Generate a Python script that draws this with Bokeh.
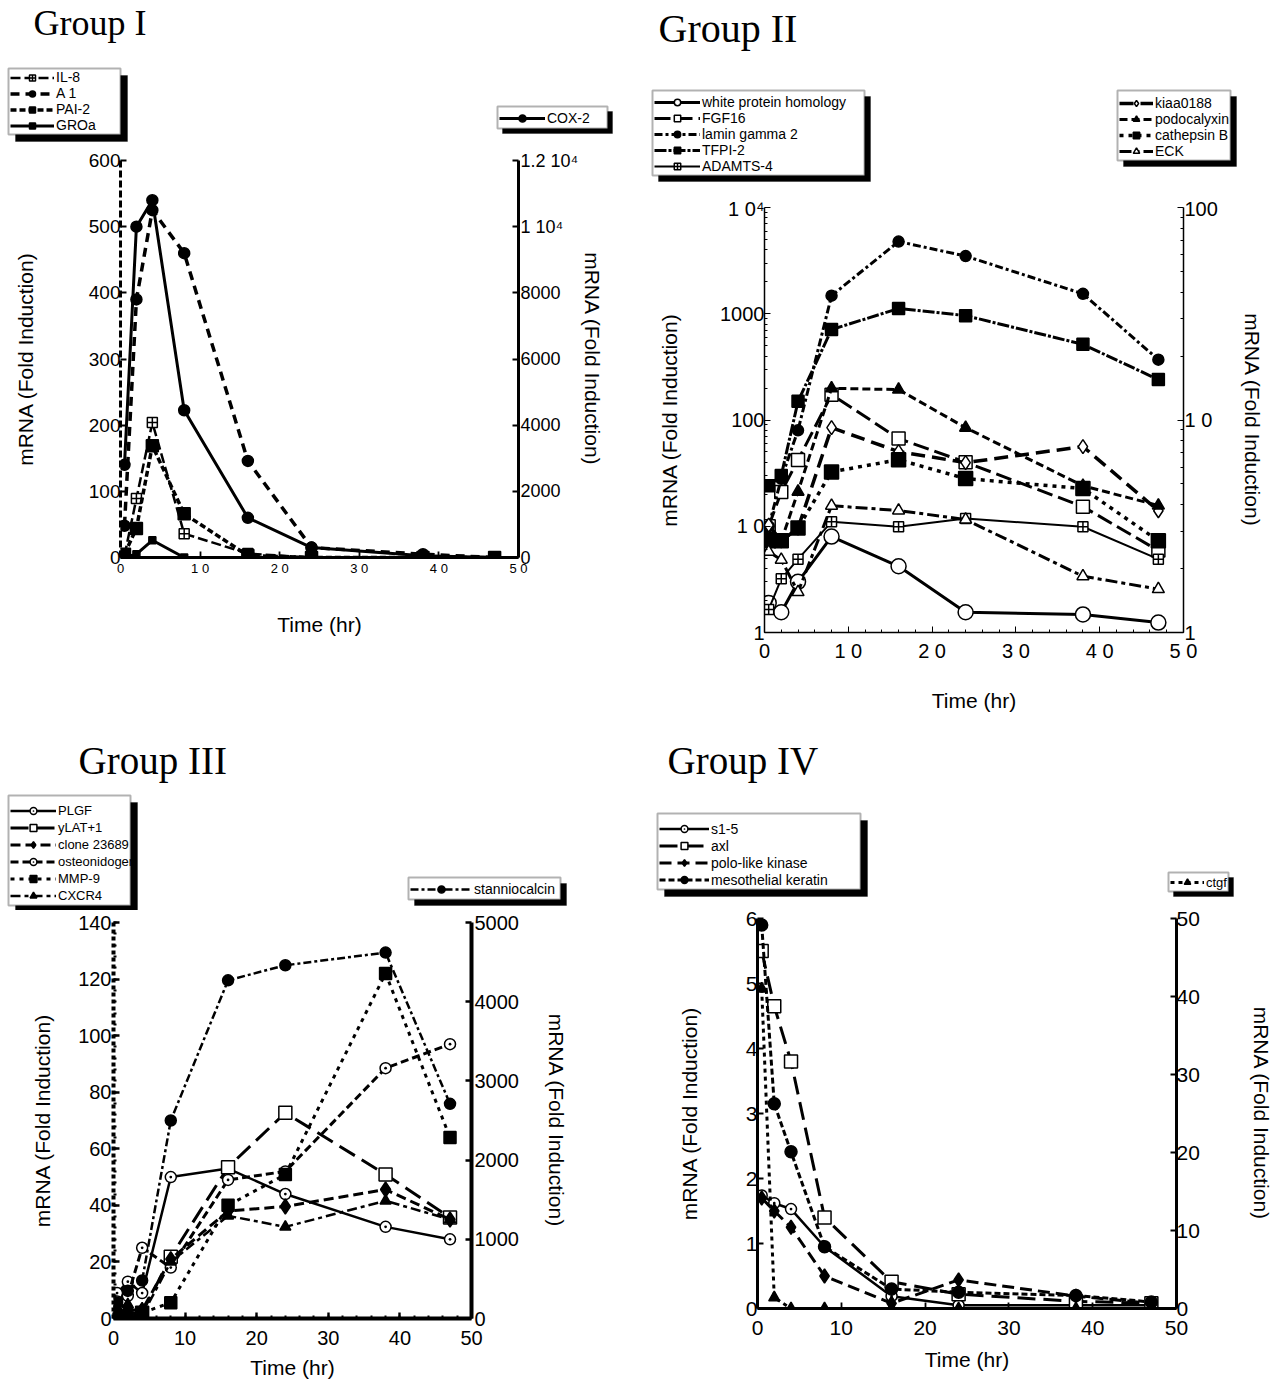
from bokeh.plotting import figure
from bokeh.models import (Range1d, LinearAxis, LogAxis, LogScale, FixedTicker,
                          Legend, LegendItem, BoxAnnotation, Label)
from bokeh.layouts import column, row
from bokeh.embed import file_html
from bokeh.resources import INLINE

SANS = "Liberation Sans"
SERIF = "Liberation Serif"

# ---------------- data ----------------
hours = [0.5, 2, 4, 8, 16, 24, 38, 47]

# Group I (left axis 0-600, right axis 0-12000)
g1_il8 = [3, 89, 204, 36, 6, 0, 0, 0]
g1_a1 = [48, 390, 525, 460, 146, 15, 5, 0]
g1_pai2 = [5, 44, 169, 66, 3, 0, 0, 0]
g1_groa = [0, 5, 26, 0, 0, 0, 0, 0]
g1_cox2 = [2800, 10000, 10800, 4450, 1200, 300, 50, 0]

# Group II (left log axis 1-10^4, right log axis 1-100)
g2_white = [1.9, 1.55, 3.0, 8.0, 4.2, 1.55, 1.48, 1.24]
g2_fgf16 = [10, 21, 42, 173, 67, 40, 15.3, 5.9]
g2_lamin = [10, 28, 80, 1480, 4780, 3490, 1540, 370]
g2_tfpi2 = [24, 30, 150, 710, 1120, 960, 515, 240]
g2_adamts4 = [1.65, 3.2, 4.9, 11, 9.9, 11.8, 9.9, 4.9]
g2_kiaa = [3.2, 2.7, 3.1, 9.2, 7.1, 6.3, 7.5, 3.74]
g2_podo = [2.7, 2.7, 4.6, 14.1, 13.9, 9.2, 4.9, 3.96]
g2_cath = [2.7, 2.7, 3.1, 5.7, 6.5, 5.3, 4.76, 2.7]
g2_eck = [2.4, 2.2, 1.55, 3.95, 3.75, 3.4, 1.84, 1.6]

# Group III (left axis 0-140, right axis 0-5000)
g3_plgf = [9, 13, 9, 50, 53, 44, 32.4, 28]
g3_ylat = [0, 0, 2, 21.8, 53.5, 72.7, 50.9, 35.7]
g3_clone = [2, 3, 3, 21, 38, 39.6, 45.6, 35]
g3_osteo = [6, 8, 25, 18, 49, 52, 88.5, 97]
g3_mmp9 = [0, 0, 2, 5.6, 40, 50.9, 122, 64]
g3_cxcr4 = [4, 5, 1, 20, 36.3, 32.4, 41.6, 35]
g3_stc = [200, 350, 480, 2500, 4270, 4460, 4620, 2710]

# Group IV (left axis 0-6, right axis 0-50)
g4_s15 = [1.74, 1.62, 1.53, 0.95, 0.19, 0.05, 0.05, 0.05]
g4_axl = [5.5, 4.65, 3.8, 1.4, 0.41, 0.22, 0.11, 0.08]
g4_polo = [1.7, 1.5, 1.25, 0.5, 0.08, 0.44, 0.19, 0.08]
g4_meso = [5.9, 3.15, 2.41, 0.95, 0.3, 0.25, 0.2, 0.1]
g4_ctgf = [41, 1.4, 0, 0, 0, 0, 0, 0]

# tick values / labels
x_ticks = [0, 10, 20, 30, 40, 50]
g1_left_ticks = [0, 100, 200, 300, 400, 500, 600]
g1_right_ticks = [0, 2000, 4000, 6000, 8000, 10000, 12000]
g2_left_ticks = [1, 10, 100, 1000, 10000]
g2_right_ticks = [1, 10, 100]
g3_left_ticks = [0, 20, 40, 60, 80, 100, 120, 140]
g3_right_ticks = [0, 1000, 2000, 3000, 4000, 5000]
g4_left_ticks = [0, 1, 2, 3, 4, 5, 6]
g4_right_ticks = [0, 10, 20, 30, 40, 50]

YLAB = "mRNA (Fold Induction)"
XLAB = "Time (hr)"

ORIG = {}


# ---------------- helpers ----------------
def make_fig(w, h, ml, mr, mt, mb, yr, ylog=False):
    p = figure(width=w, height=h, x_range=Range1d(0, 50), y_range=yr,
               y_axis_type="log" if ylog else "linear",
               output_backend="svg", toolbar_location=None,
               min_border_left=ml, min_border_right=mr,
               min_border_top=mt, min_border_bottom=mb)
    p.outline_line_color = None
    p.xgrid.visible = False
    p.ygrid.visible = False
    p.background_fill_color = "white"
    p.border_fill_color = "white"
    return p


def make_header(w, h, ox, oy):
    f = figure(width=w, height=h, x_range=Range1d(0, w), y_range=Range1d(0, h),
               output_backend="svg", toolbar_location=None,
               x_axis_location=None, y_axis_location=None, min_border=0)
    f.outline_line_color = None
    f.xgrid.visible = False
    f.ygrid.visible = False
    f.background_fill_color = "white"
    f.border_fill_color = "white"
    ORIG[f.id] = (ox, oy + h)   # page coords of bottom-left
    return f


def style_axis(ax, font_size, lw, dash=None, label=None, lab_standoff=10, tick_standoff=3):
    ax.axis_line_color = "black"
    ax.axis_line_width = lw
    if dash:
        ax.axis_line_dash = dash
    ax.major_tick_in = 6
    ax.major_tick_out = 0
    ax.minor_tick_in = 3
    ax.minor_tick_out = 0
    ax.major_tick_line_width = max(1, lw * 0.6)
    ax.minor_tick_line_width = max(1, lw * 0.5)
    ax.major_label_text_font = SANS
    ax.major_label_text_font_size = font_size
    ax.major_label_text_color = "black"
    ax.major_label_standoff = tick_standoff
    if label is not None:
        ax.axis_label = label
        ax.axis_label_text_font = SANS
        ax.axis_label_text_font_size = "21px"
        ax.axis_label_text_font_style = "normal"
        ax.axis_label_text_color = "black"
        ax.axis_label_standoff = lab_standoff


def series(p, x, y, st, rng="default"):
    p.line(x, y, line_color="black", line_width=st["w"], line_dash=st["dash"],
           y_range_name=rng)
    p.scatter(x, y, marker=st["m"], size=st["s"], fill_color=st["fill"],
              line_color="black", line_width=1.5, y_range_name=rng)


def legend_box(h, x1, y1, x2, y2, sh=7):
    ox, ob = ORIG[h.id]
    kw = dict(left_units="screen", right_units="screen",
              top_units="screen", bottom_units="screen")
    h.add_layout(BoxAnnotation(left=x1 - ox + sh, right=x2 - ox + sh,
                               top=ob - y1 - sh, bottom=ob - y2 - sh,
                               fill_color="black", fill_alpha=1.0,
                               line_color="black", **kw))
    h.add_layout(BoxAnnotation(left=x1 - ox, right=x2 - ox, top=ob - y1, bottom=ob - y2,
                               fill_color="white", fill_alpha=1.0,
                               line_color="black", line_width=2, **kw))


def legend(h, entries, x1, y2, item_h=15, glyph_w=44, font="14px"):
    ox, ob = ORIG[h.id]
    items = []
    for name, st in entries:
        # legend swatches only: one sample far outside the visible range
        r1 = h.line([-9000, -8000], [-9000, -8000], line_color="black",
                    line_width=st["w"], line_dash=st["dash"])
        r2 = h.scatter([-9000], [-9000], marker=st["m"], size=st["s"],
                       fill_color=st["fill"], line_color="black", line_width=1.5)
        items.append(LegendItem(label=name, renderers=[r1, r2]))
    lg = Legend(items=items, location=(x1 - ox + 2, ob - y2 + 1))
    lg.label_text_font = SANS
    lg.label_text_font_size = font
    lg.label_text_color = "black"
    lg.glyph_width = glyph_w
    lg.glyph_height = item_h
    lg.label_height = item_h
    lg.spacing = 0
    lg.padding = 3
    lg.margin = 0
    lg.label_standoff = 2
    lg.border_line_color = None
    lg.background_fill_alpha = 0
    h.add_layout(lg)


def title(h, text, x, y, size):
    ox, ob = ORIG[h.id]
    h.add_layout(Label(x=x - ox, y=ob - y, x_units="screen", y_units="screen",
                       text=text, text_font=SERIF, text_font_size=size,
                       text_baseline="middle", text_color="black"))


xlab_over = {10: "1 0", 20: "2 0", 30: "3 0", 40: "4 0", 50: "5 0"}

# ================= Group I =================
st1 = {
    "IL-8": dict(w=2.5, dash="10 4", m="square_cross", s=10, fill="white"),
    "A 1": dict(w=3.5, dash="9 6", m="circle", s=11, fill="black"),
    "PAI-2": dict(w=3.5, dash="6 3", m="square", s=12, fill="black"),
    "GROa": dict(w=3, dash="solid", m="square", s=7, fill="black"),
    "COX-2": dict(w=3, dash="solid", m="circle", s=11, fill="black"),
}
h1 = make_header(640, 148, 0, 0)
p1 = make_fig(640, 572, 120, 122, 12, 163, Range1d(0, 600))
p1.extra_y_ranges = {"r": Range1d(0, 12000)}
p1.add_layout(LinearAxis(y_range_name="r"), "right")
ax = p1.xaxis[0]
ax.ticker = FixedTicker(ticks=x_ticks, minor_ticks=[])
ax.major_label_overrides = xlab_over
style_axis(ax, "13px", 3, label=XLAB, lab_standoff=34, tick_standoff=3)
ax = p1.yaxis[0]
ax.ticker = FixedTicker(ticks=g1_left_ticks, minor_ticks=[])
style_axis(ax, "19px", 3, dash="7 3", label=YLAB, lab_standoff=49, tick_standoff=0)
ax = p1.yaxis[1]
ax.ticker = FixedTicker(ticks=g1_right_ticks, minor_ticks=[])
ax.major_label_overrides = {10000: "1 10\u2074", 12000: "1.2 10\u2074"}
style_axis(ax, "18px", 3, label=YLAB, lab_standoff=0, tick_standoff=2)
series(p1, hours, g1_il8, st1["IL-8"])
series(p1, hours, g1_a1, st1["A 1"])
series(p1, hours, g1_pai2, st1["PAI-2"])
series(p1, hours, g1_groa, st1["GROa"])
series(p1, hours, g1_cox2, st1["COX-2"], rng="r")
title(h1, "Group I", 33, 22, "36px")
legend_box(h1, 8, 68, 120, 134)
legend(h1, [(n, st1[n]) for n in ["IL-8", "A 1", "PAI-2", "GROa"]], 8, 134)
legend_box(h1, 497, 106, 607, 128, sh=5)
legend(h1, [("COX-2", st1["COX-2"])], 497, 128, item_h=18, glyph_w=46)

# ================= Group II =================
st2 = {
    "white protein homology": dict(w=3, dash="solid", m="circle", s=15, fill="white"),
    "FGF16": dict(w=3, dash="16 6", m="square", s=13, fill="white"),
    "lamin gamma 2": dict(w=3, dash="8 3 3 3", m="circle", s=11, fill="black"),
    "TFPI-2": dict(w=3, dash="12 2 3 2", m="square", s=12, fill="black"),
    "ADAMTS-4": dict(w=2, dash="solid", m="square_cross", s=10, fill="white"),
    "kiaa0188": dict(w=3.5, dash="14 7", m="diamond", s=14, fill="white"),
    "podocalyxin": dict(w=3, dash="8 4", m="triangle", s=12, fill="black"),
    "cathepsin B": dict(w=3.5, dash="4 5", m="square", s=14, fill="black"),
    "ECK": dict(w=3, dash="12 4 4 4", m="triangle", s=12, fill="white"),
}
h2 = make_header(635, 197, 640, 0)
p2 = make_fig(635, 523, 124, 92, 10, 88, Range1d(1, 10000), ylog=True)
p2.extra_y_ranges = {"r": Range1d(1, 100)}
p2.extra_y_scales = {"r": LogScale()}
p2.add_layout(LogAxis(y_range_name="r"), "right")
minor_l = [m * 10 ** d for d in range(4) for m in range(2, 10)]
minor_r = [m * 10 ** d for d in range(2) for m in range(2, 10)]
ax = p2.xaxis[0]
ax.ticker = FixedTicker(ticks=x_ticks, minor_ticks=list(range(0, 51, 2)))
ax.major_label_overrides = xlab_over
style_axis(ax, "20px", 1.5, label=XLAB, lab_standoff=24, tick_standoff=7)
ax = p2.yaxis[0]
ax.ticker = FixedTicker(ticks=g2_left_ticks, minor_ticks=minor_l)
ax.major_label_overrides = {1: "1", 10: "1 0", 100: "100", 1000: "1000", 10000: "1 0\u2074"}
style_axis(ax, "20px", 1.5, label=YLAB, lab_standoff=36, tick_standoff=0)
ax = p2.yaxis[1]
ax.ticker = FixedTicker(ticks=g2_right_ticks, minor_ticks=minor_r)
ax.major_label_overrides = {1: "1", 10: "1 0", 100: "100"}
style_axis(ax, "20px", 1.5, label=YLAB, lab_standoff=20, tick_standoff=1)
series(p2, hours, g2_white, st2["white protein homology"])
series(p2, hours, g2_fgf16, st2["FGF16"])
series(p2, hours, g2_lamin, st2["lamin gamma 2"])
series(p2, hours, g2_tfpi2, st2["TFPI-2"])
series(p2, hours, g2_adamts4, st2["ADAMTS-4"])
series(p2, hours, g2_kiaa, st2["kiaa0188"], rng="r")
series(p2, hours, g2_podo, st2["podocalyxin"], rng="r")
series(p2, hours, g2_cath, st2["cathepsin B"], rng="r")
series(p2, hours, g2_eck, st2["ECK"], rng="r")
title(h2, "Group II", 658, 28, "40px")
legend_box(h2, 652, 90, 864, 175, sh=6)
legend(h2, [(n, st2[n]) for n in ["white protein homology", "FGF16", "lamin gamma 2",
                                   "TFPI-2", "ADAMTS-4"]], 652, 175, item_h=16,
       glyph_w=46)
legend_box(h2, 1117, 90, 1230, 160, sh=6)
legend(h2, [(n, st2[n]) for n in ["kiaa0188", "podocalyxin", "cathepsin B", "ECK"]],
       1117, 160, item_h=16, glyph_w=34)

# ================= Group III =================
st3 = {
    "PLGF": dict(w=2.5, dash="solid", m="circle_dot", s=11, fill="white"),
    "yLAT+1": dict(w=3, dash="18 8", m="square", s=13, fill="white"),
    "clone 23689": dict(w=3, dash="10 5", m="diamond", s=15, fill="black"),
    "osteonidogen": dict(w=3, dash="8 4", m="circle_dot", s=11, fill="white"),
    "MMP-9": dict(w=3, dash="4 5", m="square", s=12, fill="black"),
    "CXCR4": dict(w=2.5, dash="10 4 4 4", m="triangle", s=11, fill="black"),
    "stanniocalcin": dict(w=2.5, dash="8 3 3 3", m="circle", s=11, fill="black"),
}
h3 = make_header(640, 190, 0, 720)
p3 = make_fig(640, 475, 113, 169, 12, 67, Range1d(0, 140))
p3.extra_y_ranges = {"r": Range1d(0, 5000)}
p3.add_layout(LinearAxis(y_range_name="r"), "right")
ax = p3.xaxis[0]
ax.ticker = FixedTicker(ticks=x_ticks, minor_ticks=list(range(0, 51, 2)))
style_axis(ax, "20px", 4, label=XLAB, lab_standoff=8, tick_standoff=12)
ax = p3.yaxis[0]
ax.ticker = FixedTicker(ticks=g3_left_ticks, minor_ticks=list(range(0, 141, 4)))
style_axis(ax, "20px", 4, dash="4 3", label=YLAB, lab_standoff=21, tick_standoff=2)
ax = p3.yaxis[1]
ax.ticker = FixedTicker(ticks=g3_right_ticks, minor_ticks=[])
style_axis(ax, "20px", 4, label=YLAB, lab_standoff=23, tick_standoff=3)
series(p3, hours, g3_plgf, st3["PLGF"])
series(p3, hours, g3_ylat, st3["yLAT+1"])
series(p3, hours, g3_clone, st3["clone 23689"])
series(p3, hours, g3_osteo, st3["osteonidogen"])
series(p3, hours, g3_mmp9, st3["MMP-9"])
series(p3, hours, g3_cxcr4, st3["CXCR4"])
series(p3, hours, g3_stc, st3["stanniocalcin"], rng="r")
title(h3, "Group III", 78, 760, "39px")
legend_box(h3, 8, 795, 130, 905)
legend(h3, [(n, st3[n]) for n in ["PLGF", "yLAT+1", "clone 23689", "osteonidogen",
                                   "MMP-9", "CXCR4"]], 8, 905, item_h=17, glyph_w=46,
       font="13px")
legend_box(h3, 408, 877, 560, 899, sh=6)
legend(h3, [("stanniocalcin", st3["stanniocalcin"])], 408, 899, item_h=18,
       glyph_w=62)

# ================= Group IV =================
st4 = {
    "s1-5": dict(w=2.5, dash="solid", m="circle_dot", s=11, fill="white"),
    "axl": dict(w=3, dash="18 8", m="square", s=13, fill="white"),
    "polo-like kinase": dict(w=3, dash="12 6", m="diamond", s=14, fill="black"),
    "mesothelial keratin": dict(w=3, dash="6 3", m="circle", s=12, fill="black"),
    "ctgf": dict(w=3, dash="4 4", m="triangle", s=11, fill="black"),
}
h4 = make_header(635, 185, 640, 720)
p4 = make_fig(635, 480, 117, 97, 13, 77, Range1d(0, 6))
p4.extra_y_ranges = {"r": Range1d(0, 50)}
p4.add_layout(LinearAxis(y_range_name="r"), "right")
ax = p4.xaxis[0]
ax.ticker = FixedTicker(ticks=x_ticks, minor_ticks=[])
style_axis(ax, "21px", 3, label=XLAB, lab_standoff=10, tick_standoff=12)
ax = p4.yaxis[0]
ax.ticker = FixedTicker(ticks=g4_left_ticks, minor_ticks=[])
style_axis(ax, "21px", 3, label=YLAB, lab_standoff=42, tick_standoff=0)
ax = p4.yaxis[1]
ax.ticker = FixedTicker(ticks=g4_right_ticks, minor_ticks=[])
style_axis(ax, "21px", 3, label=YLAB, lab_standoff=47, tick_standoff=0)
series(p4, hours, g4_s15, st4["s1-5"])
series(p4, hours, g4_axl, st4["axl"])
series(p4, hours, g4_polo, st4["polo-like kinase"])
series(p4, hours, g4_meso, st4["mesothelial keratin"])
series(p4, hours, g4_ctgf, st4["ctgf"], rng="r")
title(h4, "Group IV", 667, 760, "39px")
legend_box(h4, 657, 813, 860, 889)
legend(h4, [(n, st4[n]) for n in ["s1-5", "axl", "polo-like kinase",
                                   "mesothelial keratin"]], 657, 889, item_h=17,
       glyph_w=50)
legend_box(h4, 1168, 872, 1228, 891, sh=5)
legend(h4, [("ctgf", st4["ctgf"])], 1168, 891, item_h=16, glyph_w=34, font="13px")

page = column(row(column(row(h1), p1), column(row(h2), p2)),
              row(column(row(h3), p3), column(row(h4), p4)))
open("out.html", "w").write(file_html(page, INLINE))
